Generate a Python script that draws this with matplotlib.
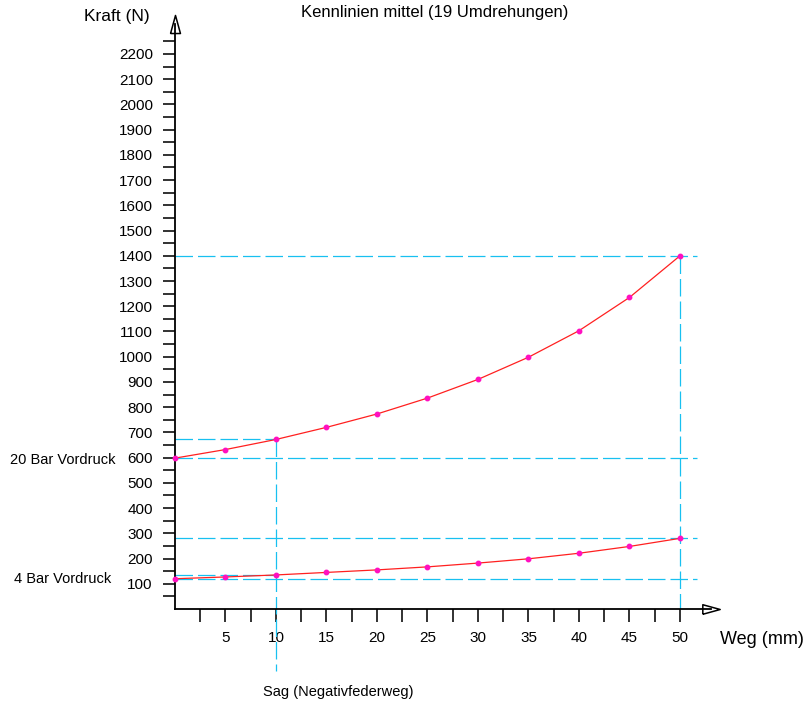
import matplotlib
matplotlib.use("Agg")
import matplotlib.pyplot as plt
from matplotlib.ticker import FixedLocator

plt.rcParams["font.family"] = ["Liberation Sans", "DejaVu Sans"]

weg = [0, 5, 10, 15, 20, 25, 30, 35, 40, 45, 50]
kraft_20bar = [598, 632, 672, 720, 773, 836, 910, 998, 1103, 1235, 1400]
kraft_4bar = [120, 127, 135, 145, 155, 167, 182, 199, 221, 248, 280]
sag = 10

W, H = 811, 720
fig = plt.figure(figsize=(W / 100, H / 100), dpi=100)

# axes placed in pixel terms: x 0 at px 175, 10.1 px/mm; y 0 at px 609, 0.2523 px/N
x0, y0 = 175, 609
xmax, ymax = 53.1, 2319
ax = fig.add_axes([x0 / W, (H - y0) / H, xmax * 10.1 / W, ymax * 0.2523 / H])
ax.set_xlim(0, xmax)
ax.set_ylim(0, ymax)

for s in ("top", "right"):
    ax.spines[s].set_visible(False)
for s in ("left", "bottom"):
    ax.spines[s].set_linewidth(1.3)

# hollow arrow heads on the axes
tri_right = [(-1, -0.55), (1, 0), (-1, 0.55), (-1, -0.55)]
tri_up = [(-0.55, -1), (0, 1), (0.55, -1), (-0.55, -1)]
ax.plot(1, 0, marker=tri_right, transform=ax.get_yaxis_transform(), ms=12.5, mfc="white", mec="black", mew=1.1, clip_on=False)
ax.plot(0, 1, marker=tri_up, transform=ax.get_xaxis_transform(), ms=13, mfc="white", mec="black", mew=1.1, clip_on=False)

ax.xaxis.set_major_locator(FixedLocator(range(5, 51, 5)))
ax.xaxis.set_minor_locator(FixedLocator([2.5 + 5 * i for i in range(10)]))
ax.yaxis.set_major_locator(FixedLocator(range(100, 2201, 100)))
ax.yaxis.set_minor_locator(FixedLocator(range(50, 2251, 100)))
ax.tick_params(axis="both", which="both", direction="out", length=9, width=1.3, color="#222222")
ax.tick_params(axis="x", which="major", pad=7, labelsize=11)
ax.tick_params(axis="y", which="major", pad=7, labelsize=11)

cyan = "#18c0f0"
dash = dict(color=cyan, lw=0.9, dashes=(14, 4), clip_on=False, zorder=2)
for yv in (kraft_20bar[-1], kraft_20bar[0], kraft_4bar[-1], kraft_4bar[0]):
    ax.plot([0, 51.7], [yv, yv], **dash)
ax.plot([0, sag], [kraft_20bar[2]] * 2, **dash)
ax.plot([0, sag], [kraft_4bar[2]] * 2, **dash)
ax.plot([sag, sag], [kraft_20bar[2], -245], **dash)
ax.plot([weg[-1], weg[-1]], [kraft_20bar[-1], 0], **dash)

for k in (kraft_20bar, kraft_4bar):
    ax.plot(weg, k, color="#ff2020", lw=0.9, zorder=3, clip_on=False)
    ax.plot(weg, k, "o", ms=3.2, color="#ff10c0", zorder=4, clip_on=False)

fig.text(150 / W, 1 - 17 / H, "Kraft (N)", ha="right", va="center", fontsize=12.5)
fig.text(435 / W, 1 - 13 / H, "Kennlinien mittel (19 Umdrehungen)", ha="center", va="center", fontsize=12)
fig.text(720 / W, 1 - 640 / H, "Weg (mm)", ha="left", va="center", fontsize=13)
fig.text(10 / W, 1 - 460 / H, "20 Bar Vordruck", ha="left", va="center", fontsize=10.5)
fig.text(14 / W, 1 - 579 / H, "4 Bar Vordruck", ha="left", va="center", fontsize=10.5)
fig.text(263 / W, 1 - 692 / H, "Sag (Negativfederweg)", ha="left", va="center", fontsize=10.5)

fig.savefig("out.png", dpi=100)
